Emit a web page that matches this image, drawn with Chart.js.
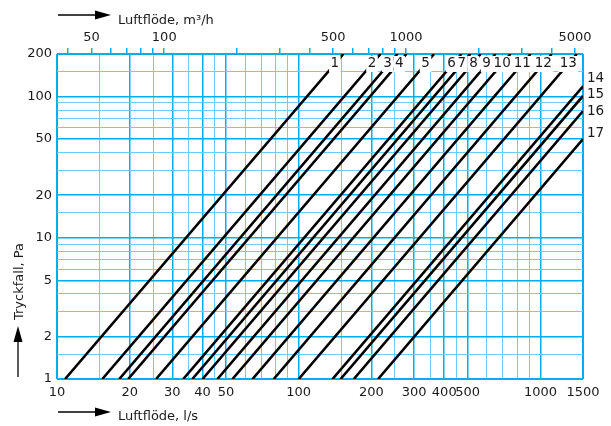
<!DOCTYPE html>
<html>
<head>
<meta charset="utf-8">
<script src="https://cdn.jsdelivr.net/npm/chart.js@4"></script>
<style>
    html, body { margin: 0; padding: 0; background: #fff; }
</style>
</head>
<body>
<canvas id="pressureChart" width="611" height="426"></canvas>
<script>
// flow l/s (bottom axis)
const flowGrid = [10, 15, 20, 25, 30, 35, 40, 45, 50, 60, 70, 80, 90, 100, 150, 200, 250, 300, 350, 400, 450, 500, 600, 700, 800, 900, 1000, 1500];
const flowLabels = [10, 20, 30, 40, 50, 100, 200, 300, 400, 500, 1000, 1500];
// flow m3/h (top axis)
const m3hTicks = [40, 50, 60, 70, 80, 90, 100, 200, 300, 400, 500, 600, 700, 800, 900, 1000, 2000, 3000, 4000, 5000];
const m3hLabels = [50, 100, 500, 1000, 5000];
// pressure drop Pa
const paGrid = [1, 1.5, 2, 3, 4, 5, 6, 7, 8, 9, 10, 15, 20, 30, 40, 50, 60, 70, 80, 90, 100, 150, 200];
const paLabels = [1, 2, 5, 10, 20, 50, 100, 200];

// curves 1-17: flow at 1 Pa, and where each one ends
const curveNames = ["1", "2", "3", "4", "5", "6", "7", "8", "9", "10", "11", "12", "13", "14", "15", "16", "17"];
const startFlow = [10.8, 15.4, 18.1, 19.7, 25.7, 33.3, 36.3, 40, 46.1, 53.2, 64.4, 78.8, 100, 138, 149, 169, 213];
const endFlow = [153, 218, 256, 279, 363, 471, 513, 566, 652, 752, 911, 1114, 1414, 1500, 1500, 1500, 1500];
const endPa = [200, 200, 200, 200, 200, 200, 200, 200, 200, 200, 200, 200, 200, 118, 101, 79, 50];

const BLUE = "#00adef";
const BLUE_LIGHT = "#6fcdf3";
const TEXT = "#1a1a1a";
const FONT = "DejaVu Sans";

let datasets = curveNames.map((name, i) => ({
    label: name,
    data: [{x: startFlow[i], y: 1}, {x: endFlow[i], y: endPa[i]}],
    borderColor: "#000",
    borderWidth: 2.6,
    pointRadius: 0,
    fill: false
}));

function setTicks (values) {
    return scale => { scale.ticks = values.map(v => ({value: v})); };
}

// arrows + axis titles, curve numbers
const decorPlugin = {
    id: "decor",
    afterDatasetsDraw (chart) {
        let ctx = chart.ctx;
        let area = chart.chartArea;
        let ys = chart.scales.y;
        ctx.save();
        ctx.font = "13.5px " + FONT;
        ctx.textBaseline = "middle";

        // numbers on curves 1-13, white box over the line
        let labelY = ys.getPixelForValue(170);
        let boxes = [];
        chart.data.datasets.forEach((ds, i) => {
            if (i >= 13) return;
            let pts = chart.getDatasetMeta(i).data;
            let p0 = pts[0], p1 = pts[1];
            let x = p0.x + (labelY - p0.y) * (p1.x - p0.x) / (p1.y - p0.y);
            boxes.push({text: ds.label, x: x, w: ctx.measureText(ds.label).width});
        });
        // push neighbours apart a little when they touch
        for (let k = 1; k < boxes.length; k++) {
            let a = boxes[k - 1], b = boxes[k];
            let gap = (b.x - b.w / 2) - (a.x + a.w / 2);
            if (gap < 3) {
                a.x -= (3 - gap) / 2;
                b.x += (3 - gap) / 2;
            }
        }
        boxes.forEach(b => {
            ctx.fillStyle = "#fff";
            ctx.fillRect(b.x - b.w / 2 - 1.5, labelY - 8, b.w + 3, 16);
            ctx.fillStyle = TEXT;
            ctx.textAlign = "center";
            ctx.fillText(b.text, b.x, labelY);
        });

        // 14-17 outside the right edge
        const rightPa = [135, 103, 78, 55];
        ctx.textAlign = "left";
        ctx.fillStyle = TEXT;
        for (let k = 0; k < 4; k++) {
            ctx.fillText(curveNames[13 + k], area.right + 4, ys.getPixelForValue(rightPa[k]));
        }

        // axis titles with arrows
        ctx.font = "13px " + FONT;
        ctx.strokeStyle = "#000";
        ctx.fillStyle = "#000";
        ctx.lineWidth = 1.3;
        function arrowRight (x0, x1, y) {
            ctx.beginPath(); ctx.moveTo(x0, y); ctx.lineTo(x1 - 12, y); ctx.stroke();
            ctx.beginPath(); ctx.moveTo(x1, y); ctx.lineTo(x1 - 16, y - 4.5); ctx.lineTo(x1 - 16, y + 4.5); ctx.closePath(); ctx.fill();
        }
        arrowRight(58, 111, 15);
        arrowRight(58, 111, 412);
        ctx.beginPath(); ctx.moveTo(18, 377); ctx.lineTo(18, 336); ctx.stroke();
        ctx.beginPath(); ctx.moveTo(18, 326); ctx.lineTo(13.5, 342); ctx.lineTo(22.5, 342); ctx.closePath(); ctx.fill();

        ctx.fillStyle = TEXT;
        ctx.textAlign = "left";
        ctx.fillText("Luftflöde, m³/h", 118, 21);
        ctx.fillText("Luftflöde, l/s", 118, 417);
        ctx.translate(20, 320);
        ctx.rotate(-Math.PI / 2);
        ctx.fillText("Tryckfall, Pa", 0, 0);
        ctx.restore();
    }
};

let ctx = document.getElementById("pressureChart");
let chart = new Chart(ctx, {
    type: "line",
    data: {datasets: datasets},
    plugins: [decorPlugin],
    options: {
        responsive: false,
        animation: false,
        layout: {padding: {left: 0, right: 28, top: 0, bottom: 0}},
        plugins: {
            legend: {display: false},
            tooltip: {enabled: false}
        },
        scales: {
            x: {
                type: "logarithmic",
                position: "bottom",
                min: 10,
                max: 1500,
                afterBuildTicks: setTicks(flowGrid),
                afterFit: s => { s.height = 47; },
                grid: {
                    drawTicks: false,
                    color: c => flowLabels.includes(c.tick.value) ? BLUE : BLUE_LIGHT,
                    lineWidth: c => (c.tick.value === 10 || c.tick.value === 1500) ? 2 : (flowLabels.includes(c.tick.value) ? 1.5 : 1)
                },
                border: {display: false},
                ticks: {
                    autoSkip: false,
                    maxRotation: 0,
                    padding: 6,
                    color: TEXT,
                    font: {family: FONT, size: 13},
                    callback: v => flowLabels.includes(v) ? String(v) : ""
                }
            },
            x2: {
                type: "logarithmic",
                position: "top",
                min: 36,
                max: 5400,
                afterBuildTicks: setTicks(m3hTicks),
                afterFit: s => { s.height = 54; },
                grid: {
                    drawOnChartArea: false,
                    drawTicks: true,
                    tickLength: 6,
                    color: BLUE,
                    lineWidth: 1.5
                },
                border: {display: false},
                ticks: {
                    autoSkip: false,
                    maxRotation: 0,
                    padding: 3,
                    color: TEXT,
                    font: {family: FONT, size: 13},
                    callback: v => m3hLabels.includes(v) ? String(v) : ""
                }
            },
            y: {
                type: "logarithmic",
                min: 1,
                max: 200,
                afterBuildTicks: setTicks(paGrid),
                afterFit: s => { s.width = 57; },
                grid: {
                    drawTicks: false,
                    color: c => paLabels.includes(c.tick.value) ? BLUE : BLUE_LIGHT,
                    lineWidth: c => (c.tick.value === 1 || c.tick.value === 200) ? 2 : (paLabels.includes(c.tick.value) ? 1.5 : 1)
                },
                border: {display: false},
                ticks: {
                    autoSkip: false,
                    padding: 5,
                    color: TEXT,
                    font: {family: FONT, size: 13},
                    callback: v => paLabels.includes(v) ? String(v) : ""
                }
            }
        }
    }
});
</script>
</body>
</html>
